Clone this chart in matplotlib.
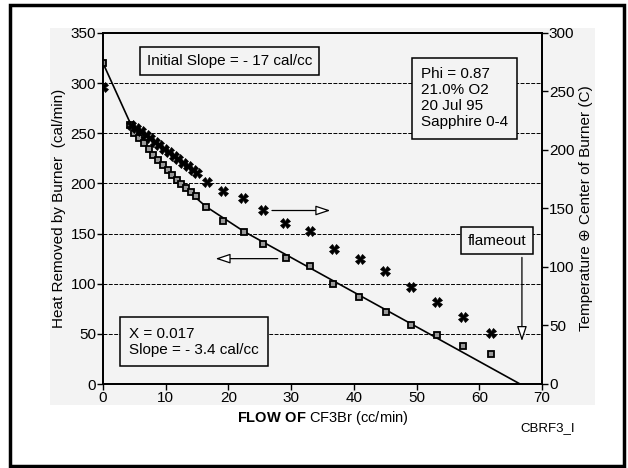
import matplotlib
matplotlib.use("Agg")
import matplotlib.pyplot as plt
from matplotlib.patches import Rectangle

plt.rcParams['font.family'] = ['Liberation Sans', 'DejaVu Sans']
plt.rcParams['mathtext.fontset'] = 'custom'
plt.rcParams['mathtext.bf'] = 'Liberation Sans:bold'
plt.rcParams['mathtext.rm'] = 'Liberation Sans'

# heat removed by burner (left axis, cal/min)
heat_flow = [0, 4.3, 5, 5.8, 6.5, 7.3, 8, 8.8, 9.5, 10.3, 11, 11.8, 12.5, 13.3, 14, 14.8,
             16.4, 19.1, 22.5, 25.5, 29.2, 33, 36.7, 40.8, 45.1, 49.1, 53.3, 57.4, 61.9]
heat = [320, 258, 250, 245, 240, 234, 228, 223, 218, 213, 208, 203, 199, 195, 191, 187,
        176, 163, 152, 140, 126, 118, 100, 87, 72, 59, 49, 38, 30]

# temperature at center of burner (right axis, C)
temp_flow = [0, 4.5, 5.2, 6, 6.8, 7.5, 8.3, 9, 9.8, 10.5, 11.3, 12, 12.8, 13.5, 14.3, 15,
             16.6, 19.2, 22.3, 25.5, 29, 33, 36.8, 40.9, 45, 49.1, 53.3, 57.4, 61.9]
temp = [254, 221, 219, 216, 213, 210, 207, 204, 201, 198, 195, 192, 189, 186, 183, 180,
        173, 165, 159, 149, 138, 131, 115, 107, 97, 83, 70, 57, 44]

# fitted curve through heat data
fit_x = [0, 4.5, 8, 12, 16.4, 22.5, 66.5]
fit_y = [320, 258, 228, 201, 177, 152, 0]

flameout_flow = 66.8

fig = plt.figure(figsize=(6.28, 4.68), dpi=100)

# light grey scanned background and outer frame
fig.patches.append(Rectangle((50/628, 1-405/468), 545/628, 377/468, transform=fig.transFigure,
                             facecolor='#f3f3f3', edgecolor='none', zorder=-5))
fig.patches.append(Rectangle((10/628, 1-466/468), 614/628, 461/468, transform=fig.transFigure,
                             facecolor='none', edgecolor='black', linewidth=2.5, zorder=5))

ax = fig.add_axes([103/628, 1-384/468, 439/628, 351/468])
ax.set_facecolor('#f3f3f3')
ax.set_xlim(0, 70)
ax.set_ylim(0, 350)
ax.set_xticks(range(0, 71, 10))
ax.set_yticks(range(0, 351, 50))
for v in range(50, 301, 50):
    ax.axhline(v, color='black', linestyle=(0, (4, 1.5)), linewidth=0.7, zorder=1)

ax.plot(fit_x, fit_y, color='black', linewidth=1.2, zorder=3)
ax.plot(heat_flow, heat, linestyle='none', marker='s', markersize=4.5,
        markerfacecolor='#999999', markeredgecolor='black', markeredgewidth=1.3, zorder=4)

ax2 = ax.twinx()
ax2.set_ylim(0, 300)
ax2.set_yticks(range(0, 301, 50))
ax2.plot(temp_flow, temp, linestyle='none', marker='X', markersize=6.5,
         markerfacecolor='black', markeredgecolor='black', markeredgewidth=0.5, zorder=4)

for a in (ax, ax2):
    a.tick_params(direction='out', length=4, width=1, labelsize=11, pad=1)
    for s in a.spines.values():
        s.set_linewidth(1.3)

ax.set_ylabel('Heat Removed by Burner  (cal/min)', fontsize=11, labelpad=3)
ax2.set_ylabel('Temperature \u2295 Center of Burner (C)', fontsize=11, labelpad=3)
ax.set_xlabel(r'$\mathbf{FLOW\ OF}$ CF3Br (cc/min)', fontsize=10.5, labelpad=3)

# arrows indicating which axis each series belongs to
arrow = dict(arrowstyle='-|>,head_length=0.9,head_width=0.3', edgecolor='black',
             facecolor='white', linewidth=0.9)
ax.annotate('', xy=(36.7, 173), xytext=(26.5, 173), arrowprops=arrow)
ax.annotate('', xy=(17.5, 125), xytext=(28.3, 125), arrowprops=arrow)
ax.annotate('', xy=(flameout_flow, 40), xytext=(flameout_flow, 129), arrowprops=arrow)

box = dict(boxstyle='square,pad=0.45', facecolor='#f3f3f3', edgecolor='black', linewidth=1.1)
ax.text(20.2, 322, 'Initial Slope = - 17 cal/cc', fontsize=11, ha='center', va='center', bbox=box)
ax.text(50.7, 285, 'Phi = 0.87\n21.0% O2\n20 Jul 95\nSapphire 0-4', fontsize=11,
        ha='left', va='center', linespacing=1.2,
        bbox=dict(boxstyle='square,pad=0.6', facecolor='#f3f3f3', edgecolor='black', linewidth=1.1))
ax.text(4.2, 42, 'X = 0.017\nSlope = - 3.4 cal/cc', fontsize=11, ha='left', va='center',
        linespacing=1.25,
        bbox=dict(boxstyle='square,pad=0.6', facecolor='#f3f3f3', edgecolor='black', linewidth=1.1))
ax.text(62.8, 143, 'flameout', fontsize=11, ha='center', va='center', bbox=box, zorder=6)

fig.text(548/628, 1-428/468, 'CBRF3_I', fontsize=9.5, ha='center', va='center')

fig.savefig('out.png', dpi=100)
